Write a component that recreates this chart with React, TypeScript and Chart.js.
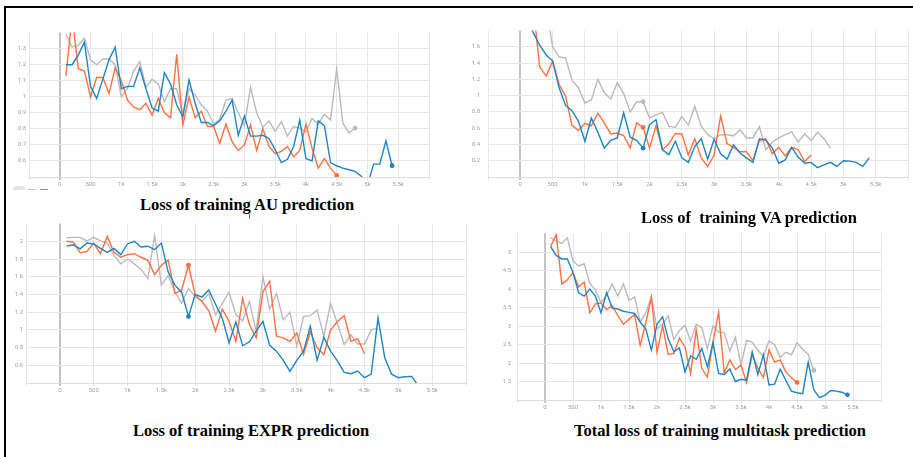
import React, { useEffect, useRef } from "react";
import { Chart, registerables } from "chart.js";

Chart.register(...registerables);

// Training steps (x values)
const STEPS = [
  100, 200, 300, 400, 500, 600, 700, 800, 900, 1000,
  1100, 1200, 1300, 1400, 1500, 1600, 1700, 1800, 1900, 2000,
  2100, 2200, 2300, 2400, 2500, 2600, 2700, 2800, 2900, 3000,
  3100, 3200, 3300, 3400, 3500, 3600, 3700, 3800, 3900, 4000,
  4100, 4200, 4300, 4400, 4500, 4600, 4700, 4800, 4900, 5000,
  5100, 5200, 5300, 5400,
];

// ---- AU loss ----
const AU_BLUE = [1.2, 1.2, 1.26, 1.34, 1.065, 0.99, 1.11, 1.23, 1.31, 1.05, 1.065, 1.065, 1.18, 1.05, 0.93, 0.91, 1.15, 1.08, 0.95, 0.875, 1.105, 0.96, 0.84, 0.84, 0.82, 0.85, 0.91, 0.98, 0.76, 0.88, 0.755, 0.755, 0.76, 0.74, 0.67, 0.59, 0.61, 0.69, 0.855, 0.615, 0.6, 0.85, 0.82, 0.59, 0.57, 0.555, 0.545, 0.535, 0.505, 0.45, 0.58, 0.58, 0.725, 0.57];
const AU_ORANGE = [1.13, 1.5, 1.175, 1.16, 1.0, 1.12, 1.12, 1.02, 1.18, 1.1, 0.98, 0.935, 0.92, 0.96, 0.885, 0.99, 0.9, 0.87, 1.265, 0.825, 1.0, 0.87, 0.91, 0.815, 0.815, 0.71, 0.83, 0.72, 0.665, 0.7, 0.825, 0.665, 0.8, 0.69, 0.645, 0.66, 0.69, 0.625, 0.665, 0.83, 0.68, 0.555, 0.615, 0.555, 0.51];
const AU_GRAY = [1.39, 1.31, 1.32, 1.365, 1.23, 1.2, 1.235, 1.235, 1.2, 1.0, 1.05, 1.16, 1.22, 1.06, 1.11, 1.08, 0.97, 1.05, 1.05, 0.89, 1.05, 1.01, 0.95, 0.91, 0.83, 0.86, 0.98, 0.99, 0.9, 0.82, 1.06, 0.9, 0.81, 0.85, 0.785, 0.845, 0.755, 0.815, 0.805, 0.78, 0.865, 0.83, 0.89, 0.855, 1.175, 0.835, 0.775, 0.805];

// ---- VA loss ----
const VA_BLUE = [1.95, 1.775, 1.62, 1.5, 1.425, 1.1, 0.88, 0.815, 0.685, 0.44, 0.725, 0.55, 0.355, 0.45, 0.48, 0.79, 0.49, 0.45, 0.355, 0.645, 0.705, 0.335, 0.275, 0.44, 0.235, 0.18, 0.375, 0.47, 0.22, 0.465, 0.285, 0.22, 0.395, 0.295, 0.235, 0.18, 0.47, 0.45, 0.355, 0.17, 0.21, 0.365, 0.245, 0.17, 0.18, 0.115, 0.15, 0.18, 0.13, 0.2, 0.195, 0.18, 0.13, 0.235];
const VA_ORANGE = [2.4, 2.1, 1.355, 1.24, 1.425, 1.14, 0.995, 0.635, 0.57, 0.66, 0.63, 0.785, 0.665, 0.53, 0.54, 0.51, 0.355, 0.665, 0.61, 0.355, 0.63, 0.335, 0.41, 0.535, 0.53, 0.27, 0.47, 0.235, 0.13, 0.27, 0.75, 0.41, 0.365, 0.31, 0.31, 0.2, 0.45, 0.47, 0.285, 0.365, 0.26, 0.365, 0.335, 0.19, 0.27];
const VA_GRAY = [2.8, 2.5, 2.3, 2.1, 1.6, 1.475, 1.465, 1.19, 1.095, 0.91, 0.95, 1.2, 1.035, 0.96, 1.16, 1.025, 0.8, 0.925, 0.925, 0.725, 0.765, 0.795, 0.625, 0.61, 0.745, 0.635, 0.87, 0.625, 0.52, 0.47, 0.52, 0.52, 0.505, 0.58, 0.48, 0.48, 0.62, 0.335, 0.43, 0.48, 0.52, 0.555, 0.43, 0.53, 0.45, 0.55, 0.47, 0.355];

// ---- EXPR loss ----
const EX_BLUE = [1.945, 1.96, 1.915, 1.98, 1.97, 1.92, 1.875, 1.92, 1.85, 1.97, 2.0, 1.935, 1.945, 1.905, 1.98, 1.655, 1.505, 1.425, 1.15, 1.4, 1.37, 1.45, 1.29, 1.13, 0.855, 1.09, 0.82, 0.865, 0.985, 1.095, 0.825, 0.76, 0.655, 0.53, 0.655, 0.76, 1.04, 0.655, 0.915, 0.76, 0.65, 0.52, 0.505, 0.535, 0.46, 0.5, 1.135, 0.685, 0.5, 0.46, 0.47, 0.475, 0.36];
const EX_ORANGE = [2.0, 1.99, 1.87, 1.885, 1.98, 1.86, 2.055, 1.875, 1.82, 1.85, 1.86, 1.82, 1.785, 1.625, 1.73, 1.79, 1.41, 1.45, 1.73, 1.395, 1.32, 1.215, 0.985, 1.235, 1.095, 0.87, 1.355, 1.06, 0.91, 1.43, 1.55, 0.93, 0.91, 0.87, 0.965, 0.72, 0.975, 0.8, 0.72, 1.0, 1.095, 1.16, 0.87, 0.9, 0.73];
const EX_GRAY = [2.04, 2.045, 2.045, 2.005, 2.045, 2.005, 1.98, 1.84, 1.745, 1.8, 1.745, 1.685, 1.58, 2.065, 1.505, 1.615, 1.43, 1.3, 1.47, 1.375, 1.32, 1.41, 1.17, 1.3, 1.425, 1.175, 1.1, 1.32, 0.985, 1.6, 1.235, 1.41, 1.115, 1.2, 0.815, 1.15, 1.16, 1.225, 0.93, 1.3, 1.075, 0.835, 0.945, 0.84, 0.84, 1.0, 1.02];

// ---- Total multitask loss ----
const TO_BLUE = [5.15, 4.91, 4.815, 4.815, 4.45, 3.9, 3.81, 4.0, 3.81, 3.355, 3.905, 3.485, 3.46, 3.4, 3.37, 3.34, 3.11, 2.92, 2.35, 3.05, 3.25, 2.655, 2.305, 2.41, 1.76, 2.19, 2.1, 2.39, 1.895, 2.55, 1.72, 1.69, 1.84, 1.5, 1.56, 1.535, 2.305, 1.69, 2.22, 1.405, 1.43, 1.83, 1.535, 1.24, 1.195, 1.17, 2.025, 1.275, 1.065, 1.125, 1.255, 1.24, 1.21, 1.14];
const TO_ORANGE = [5.15, 5.47, 4.14, 4.25, 4.45, 4.055, 4.19, 3.355, 3.6, 3.62, 3.445, 3.55, 3.285, 3.05, 3.18, 3.31, 2.48, 3.09, 3.775, 2.29, 3.005, 2.235, 2.26, 2.675, 2.435, 1.71, 2.9, 1.85, 1.62, 2.565, 3.37, 1.735, 2.085, 1.825, 1.94, 1.475, 2.22, 1.87, 1.605, 2.35, 2.025, 2.085, 1.76, 1.605, 1.475];
const TO_GRAY = [5.39, 5.3, 5.235, 5.385, 4.755, 4.625, 4.685, 4.16, 3.97, 3.635, 3.835, 4.14, 3.81, 4.14, 3.69, 3.79, 3.11, 3.355, 3.81, 2.92, 3.05, 3.27, 2.64, 2.875, 3.02, 2.585, 3.05, 2.96, 2.39, 3.005, 2.83, 2.83, 2.32, 2.7, 1.94, 2.61, 2.565, 2.35, 2.175, 2.595, 2.5, 2.15, 2.29, 2.22, 2.55, 2.375, 2.235, 1.8];

const CAPTIONS = [
  "Loss of training AU prediction",
  "Loss of  training VA prediction",
  "Loss of training EXPR prediction",
  "Total loss of training multitask prediction",
];

const BLUE = "#1f83c4";
const ORANGE = "#ff7043";
const GRAY = "#bababa";

type Series = { values: number[]; color: string; marker: number };
type PanelCfg = {
  left: number; top: number; w: number; h: number;
  yMin: number; yMax: number; yStep: number; yPad: number;
  series: Series[];
};

const YW = 26;
const XH = 14;
const PT = 4;
const PR = 4;

function fmtX(v: number) {
  if (v < 0 || v > 5500) return "";
  if (v === 0) return "0";
  if (v < 1000) return String(v);
  return v / 1000 + "k";
}

function Panel({ cfg }: { cfg: PanelCfg }) {
  const ref = useRef<HTMLCanvasElement | null>(null);
  useEffect(() => {
    if (!ref.current) return;
    const { yMin, yMax, yStep } = cfg;
    const chart = new Chart(ref.current, {
      type: "line",
      data: {
        datasets: cfg.series.map((s) => ({
          data: s.values.map((v, i) => ({ x: STEPS[i], y: v })),
          borderColor: s.color,
          backgroundColor: s.color,
          borderWidth: 1.4,
          tension: 0,
          clip: 0,
          pointRadius: (c: any) => (c.dataIndex === s.marker ? 2.4 : 0),
          pointBorderWidth: 0,
          pointBackgroundColor: s.color,
        })),
      },
      options: {
        responsive: false,
        animation: false,
        events: [],
        layout: { padding: { top: PT, right: PR, left: 0, bottom: 0 } },
        plugins: { legend: { display: false }, tooltip: { enabled: false } },
        scales: {
          x: {
            type: "linear",
            min: -500,
            max: 6000,
            afterFit: (s: any) => { s.height = XH; },
            ticks: {
              stepSize: 500,
              autoSkip: false,
              maxRotation: 0,
              padding: 1,
              color: "#9e9e9e",
              font: { family: "Roboto", size: 6 },
              callback: (v: any) => fmtX(Number(v)),
            },
            grid: {
              color: (c: any) => (c.tick && c.tick.value === 0 ? "#c4c4c4" : "#e6e6e6"),
              lineWidth: (c: any) => (c.tick && c.tick.value === 0 ? 2 : 1),
              tickLength: 3,
            },
            border: { display: true, color: "#dcdcdc" },
          },
          y: {
            type: "linear",
            min: yMin,
            max: yMax,
            afterFit: (s: any) => { s.width = YW; },
            ticks: {
              stepSize: yStep,
              padding: cfg.yPad,
              color: "#9e9e9e",
              font: { family: "Roboto", size: 6 },
              callback: (v: any) => {
                const n = Number(v);
                if (Math.abs(n - yMax) < 1e-6 || Math.abs(n - yMin) < 1e-6) return "";
                return String(Number(n.toFixed(2)));
              },
            },
            grid: {
              drawTicks: false,
              color: (c: any) =>
                c.tick && Math.abs(c.tick.value - yMax) < 1e-6 ? "rgba(0,0,0,0)" : "#e6e6e6",
            },
            border: { display: false },
          },
        },
      } as any,
    });
    return () => chart.destroy();
  }, [cfg]);
  const cw = YW + cfg.w + PR;
  const ch = PT + cfg.h + XH;
  return (
    <canvas
      ref={ref}
      width={cw}
      height={ch}
      style={{ position: "absolute", left: cfg.left - YW, top: cfg.top - PT, width: cw, height: ch }}
    />
  );
}

const PANELS: PanelCfg[] = [
  {
    left: 29, top: 30, w: 400, h: 147, yMin: 0.5, yMax: 1.4, yStep: 0.1, yPad: 3,
    series: [
      { values: AU_BLUE, color: BLUE, marker: AU_BLUE.length - 1 },
      { values: AU_ORANGE, color: ORANGE, marker: AU_ORANGE.length - 1 },
      { values: AU_GRAY, color: GRAY, marker: AU_GRAY.length - 1 },
    ],
  },
  {
    left: 488, top: 23, w: 420, h: 154, yMin: 0, yMax: 1.8, yStep: 0.2, yPad: 8,
    series: [
      { values: VA_BLUE, color: BLUE, marker: 18 },
      { values: VA_ORANGE, color: ORANGE, marker: 18 },
      { values: VA_GRAY, color: GRAY, marker: 18 },
    ],
  },
  {
    left: 26, top: 221, w: 440, h: 162, yMin: 0.4, yMax: 2.2, yStep: 0.2, yPad: 3,
    series: [
      { values: EX_BLUE, color: BLUE, marker: 18 },
      { values: EX_ORANGE, color: ORANGE, marker: 18 },
      { values: EX_GRAY, color: GRAY, marker: -1 },
    ],
  },
  {
    left: 517, top: 228, w: 364, h: 172, yMin: 1, yMax: 5.5, yStep: 0.5, yPad: 6,
    series: [
      { values: TO_BLUE, color: BLUE, marker: TO_BLUE.length - 1 },
      { values: TO_ORANGE, color: ORANGE, marker: TO_ORANGE.length - 1 },
      { values: TO_GRAY, color: GRAY, marker: TO_GRAY.length - 1 },
    ],
  },
];

const CAPTION_POS = [
  { x: 247, y: 205 },
  { x: 749, y: 218 },
  { x: 251, y: 431 },
  { x: 720, y: 431 },
];

export default function App() {
  return (
    <div
      style={{
        position: "absolute",
        left: 0,
        top: 0,
        width: 913,
        height: 457,
        background: "#ffffff",
        overflow: "hidden",
      }}
    >
      {PANELS.map((p, i) => (
        <Panel key={i} cfg={p} />
      ))}
      {CAPTIONS.map((t, i) => (
        <div
          key={"c" + i}
          style={{
            position: "absolute",
            left: CAPTION_POS[i].x,
            top: CAPTION_POS[i].y,
            transform: "translate(-50%, -50%)",
            whiteSpace: "pre",
            fontFamily: "'Liberation Serif', 'Times New Roman', serif",
            fontWeight: 700,
            fontSize: 16.5,
            color: "#000",
            lineHeight: 1,
          }}
        >
          {t}
        </div>
      ))}
      {/* figure frame */}
      <div style={{ position: "absolute", left: 4, top: 6, width: 909, height: 2, background: "#000" }} />
      <div style={{ position: "absolute", left: 4, top: 6, width: 2, height: 451, background: "#000" }} />
      {/* small stray marks from the screenshots */}
      <div style={{ position: "absolute", left: 249, top: 214, width: 1, height: 5, background: "#777" }} />
      <div style={{ position: "absolute", left: 13, top: 186, width: 12, height: 4, borderRadius: "6px 6px 0 0", background: "#e4e4e4" }} />
      <div style={{ position: "absolute", left: 28, top: 189, width: 7, height: 1, background: "#9cc8e8" }} />
      <div style={{ position: "absolute", left: 40, top: 189, width: 8, height: 1, background: "#5aa6dc" }} />
    </div>
  );
}
